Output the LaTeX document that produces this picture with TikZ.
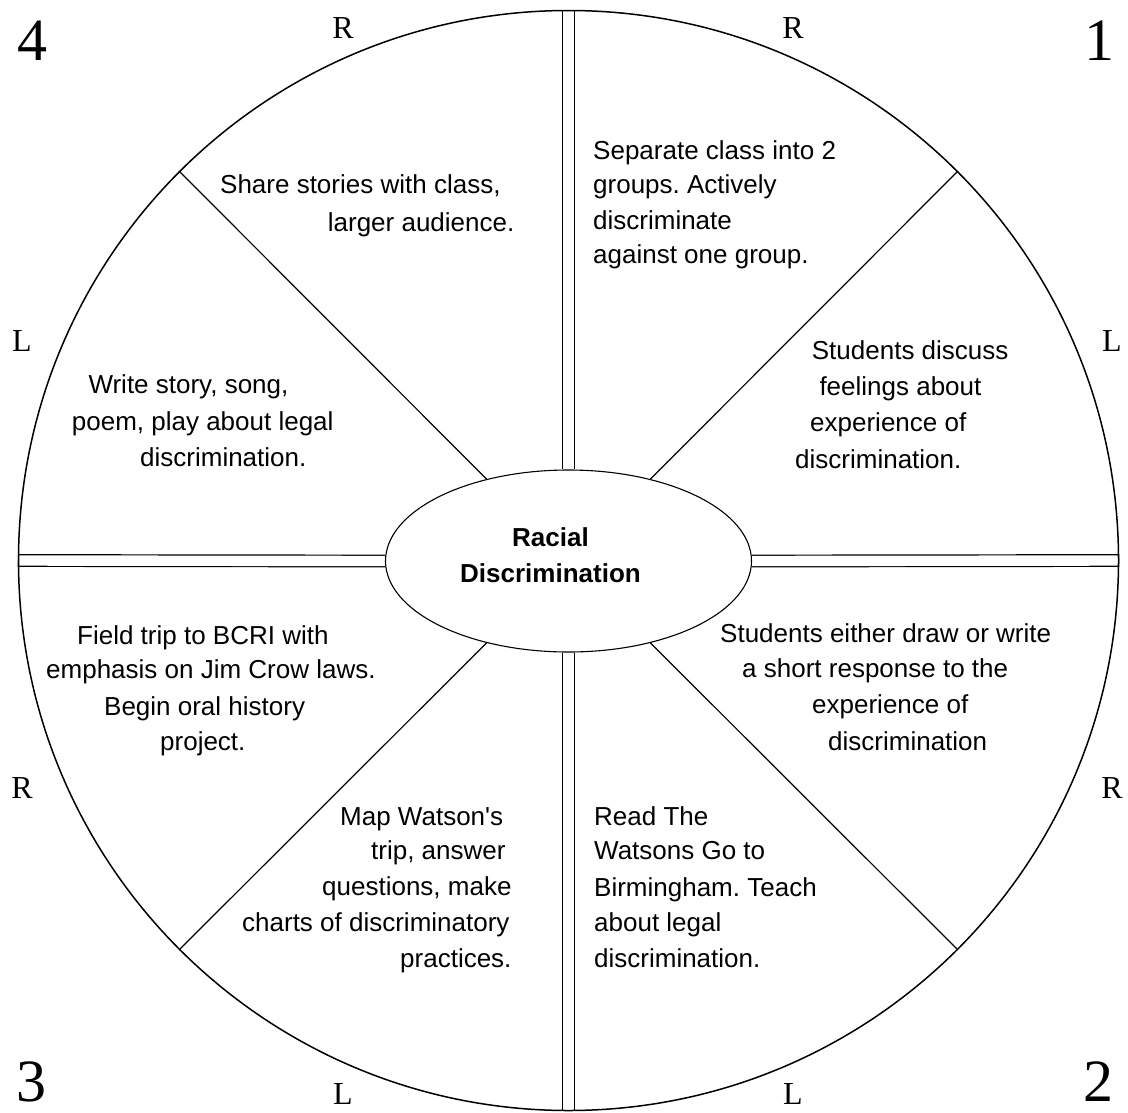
\documentclass[tikz,border=0pt]{standalone}
\usepackage{fontspec}
\setmainfont{Liberation Sans}[Ligatures=TeXOff]
\newfontfamily\tmsfont{Liberation Serif}
\usetikzlibrary{shapes.geometric,calc}
\pgfdeclarelayer{bg}
\pgfsetlayers{bg,main}
\frenchspacing
\begin{document}
\begin{tikzpicture}[x=1pt,y=-1pt,
  ln/.style={line width=1.2pt, draw=black},
  dbl/.style={double distance=10.4pt, line width=1.2pt, draw=black},
  body/.style={anchor=base west, inner sep=0pt, font=\fontsize{26}{31}\selectfont},
  ttl/.style={anchor=base, inner sep=0pt, font=\fontsize{26}{31}\selectfont\bfseries},
  corner/.style={anchor=base west, inner sep=0pt, text depth=0pt, font=\fontsize{60}{70}\selectfont\tmsfont},
  side/.style={anchor=base, inner sep=0pt, text depth=0pt, font=\fontsize{32}{38}\selectfont\tmsfont}]
\useasboundingbox (0,0) rectangle (1128,1112);
\node[circle, draw, line width=1.5pt, minimum size=1100pt, inner sep=0pt] (rim) at (568.5,560.5) {};
\node[ellipse, draw, line width=1.1pt, minimum width=366pt, minimum height=182pt, inner sep=0pt] (core) at (568.5,561) {};
\begin{pgfonlayer}{bg}
\fill[white] (0,0) rectangle (1128,1112);
\draw[dbl] (rim.north) -- (core.north);
\draw[dbl] (rim.south) -- (core.south);
\draw[dbl] (rim.west) -- (core.west);
\draw[dbl] (rim.east) -- (core.east);
\draw[ln] (rim.45) -- (core.45);
\draw[ln] (rim.135) -- (core.135);
\draw[ln] (rim.225) -- (core.225);
\draw[ln] (rim.315) -- (core.315);
\end{pgfonlayer}
% title
\node[ttl] (t1) at (550.5,546) {Racial};
\node[ttl] (t2) at (550.5,582.7) {Discrimination};
% corner numbers
\node[corner] (n4) at (17.5,60) {4};
\node[corner] (n1) at (1084,60) {1};
\node[corner] (n3) at (16,1101.5) {3};
\node[corner] (n2) at (1083,1101.5) {2};
% side letters
\node[side] (s1) at (343,38) {R};
\node[side] (s2) at (793,38) {R};
\node[side] (s3) at (22,351) {L};
\node[side] (s4) at (1112,351) {L};
\node[side] (s5) at (22,798) {R};
\node[side] (s6) at (1112,798) {R};
\node[side] (s7) at (343,1104) {L};
\node[side] (s8) at (793,1104) {L};
% block 1 top
\node[body] (a1) at (593,159.3) {Separate class into 2};
\node[body] (a2) at (593,193.3) {groups. Actively};
\node[body] (a3) at (593,229) {discriminate};
\node[body] (a4) at (593,263.3) {against one group.};
% block 1 right
\node[body] (b1) at (811.7,359.3) {Students discuss};
\node[body] (b2) at (819.3,395) {feelings about};
\node[body] (b3) at (810,431.7) {experience of};
\node[body] (b4) at (795,468.3) {discrimination.};
% block 2 right
\node[body] (c1) at (720,642) {Students either draw or write};
\node[body] (c2) at (742,677) {a short response to the};
\node[body] (c3) at (812,713) {experience of};
\node[body] (c4) at (828,750) {discrimination};
% block 2 bottom
\node[body] (d1) at (594,825) {Read The};
\node[body] (d2) at (594,859) {Watsons Go to};
\node[body] (d3) at (594,896) {Birmingham. Teach};
\node[body] (d4) at (594,931) {about legal};
\node[body] (d5) at (594,967) {discrimination.};
% block 3 left
\node[body] (e1) at (77,644) {Field trip to BCRI with};
\node[body] (e2) at (46,678) {emphasis on Jim Crow laws.};
\node[body] (e3) at (104,715) {Begin oral history};
\node[body] (e4) at (160,750) {project.};
% block 3 bottom
\node[body] (f1) at (340,825) {Map Watson's};
\node[body] (f2) at (371,859) {trip, answer};
\node[body] (f3) at (322,895) {questions, make};
\node[body] (f4) at (242,931) {charts of discriminatory};
\node[body] (f5) at (400,967) {practices.};
% block 4 top
\node[body] (g1) at (220,193.3) {Share stories with class,};
\node[body] (g2) at (327.7,231.7) {larger audience.};
% block 4 left
\node[body] (h1) at (88.3,393.3) {Write story, song,};
\node[body] (h2) at (71.7,430) {poem, play about legal};
\node[body] (h3) at (140,466.7) {discrimination.};
\end{tikzpicture}
\end{document}
